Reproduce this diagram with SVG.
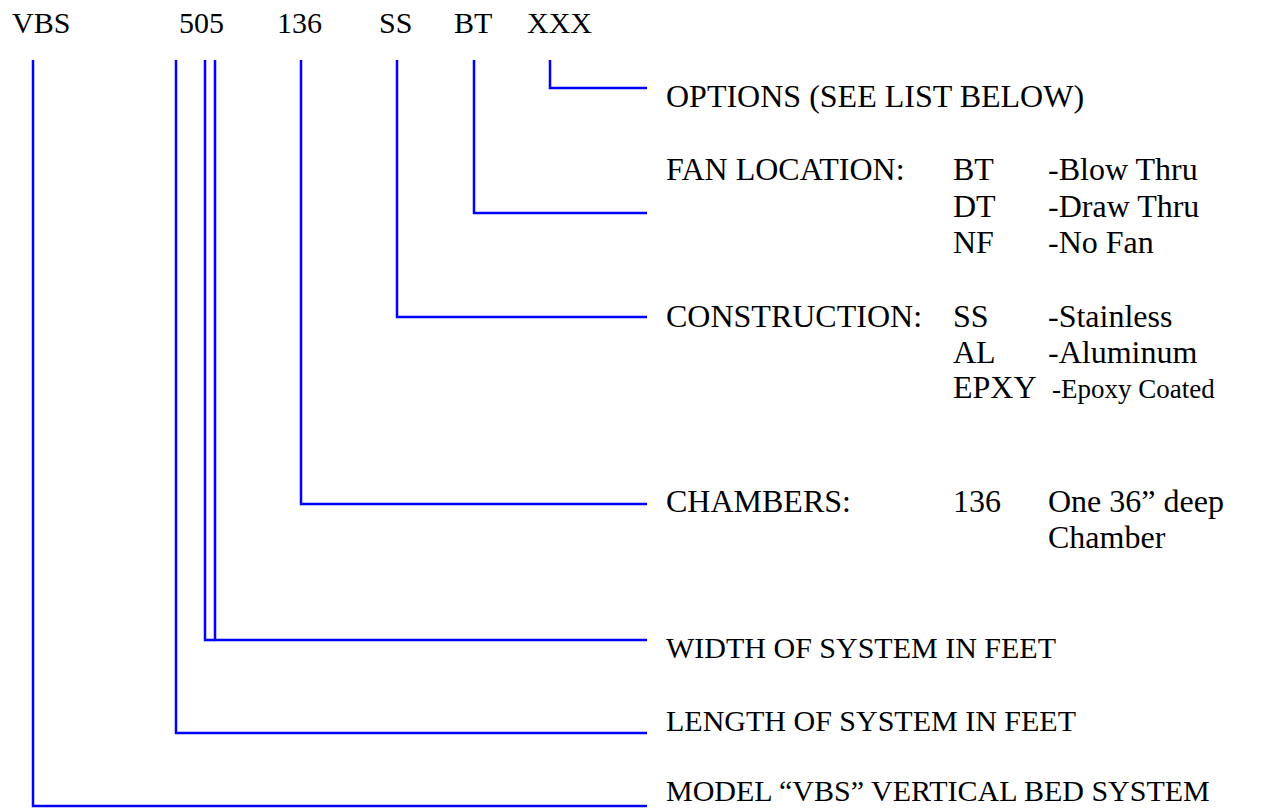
<svg xmlns="http://www.w3.org/2000/svg" width="1267" height="808" viewBox="0 0 1267 808">
<style>
text{font-family:"Liberation Serif","Times New Roman",serif;font-size:30px;fill:#000}
.lg{font-size:32px}
.sm{font-size:27px}
.c{fill:none;stroke:#0000FF;stroke-width:2.5}
</style>
<rect width="1267" height="808" fill="#fff"/>
<g id="code">
<text x="12" y="33">VBS</text>
<text x="179" y="33">505</text>
<text x="277" y="33">136</text>
<text x="379" y="33">SS</text>
<text x="454" y="33">BT</text>
<text x="527" y="33">XXX</text>
</g>
<g id="connectors">
<polyline class="c" points="550,60 550,88 647,88"/>
<polyline class="c" points="474,60 474,213 647,213"/>
<polyline class="c" points="397,60 397,317 647,317"/>
<polyline class="c" points="301,60 301,504 647,504"/>
<polyline class="c" points="215,60 215,640 647,640"/>
<polyline class="c" points="205,60 205,640 215,640"/>
<polyline class="c" points="176,60 176,733 647,733"/>
<polyline class="c" points="33,60 33,806 647,806"/>
</g>
<g id="options">
<text class="lg" x="666" y="107">OPTIONS (SEE LIST BELOW)</text>
</g>
<g id="fan">
<text class="lg" x="666" y="180">FAN LOCATION:</text>
<text class="lg" x="953" y="180">BT</text><text class="lg" x="1048" y="180">-Blow Thru</text>
<text class="lg" x="953" y="217">DT</text><text class="lg" x="1048" y="217">-Draw Thru</text>
<text class="lg" x="953" y="253">NF</text><text class="lg" x="1048" y="253">-No Fan</text>
</g>
<g id="construction">
<text class="lg" x="666" y="327">CONSTRUCTION:</text>
<text class="lg" x="953" y="327">SS</text><text class="lg" x="1048" y="327">-Stainless</text>
<text class="lg" x="953" y="363">AL</text><text class="lg" x="1048" y="363">-Aluminum</text>
<text class="lg" x="953" y="398">EPXY</text><text class="sm" x="1052" y="398">-Epoxy Coated</text>
</g>
<g id="chambers">
<text class="lg" x="666" y="512">CHAMBERS:</text>
<text class="lg" x="953" y="512">136</text><text class="lg" x="1048" y="512">One 36” deep</text>
<text class="lg" x="1048" y="548">Chamber</text>
</g>
<g id="width">
<text x="666" y="658">WIDTH OF SYSTEM IN FEET</text>
</g>
<g id="length">
<text x="666" y="731">LENGTH OF SYSTEM IN FEET</text>
</g>
<g id="model">
<text x="666" y="801">MODEL “VBS” VERTICAL BED SYSTEM</text>
</g>
</svg>
